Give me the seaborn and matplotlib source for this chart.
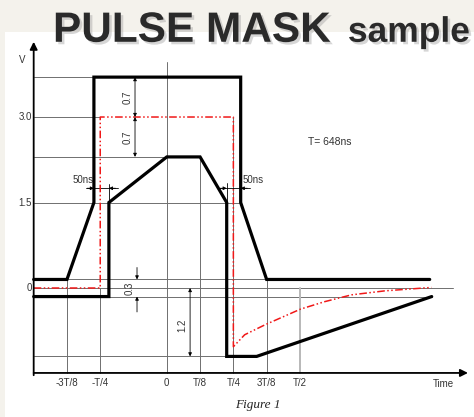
"""Pulse mask diagram (T = 648 ns) redrawn with seaborn/matplotlib."""

import matplotlib

matplotlib.use("Agg")
import matplotlib.pyplot as plt
import matplotlib.patheffects as pe
import pandas as pd
import seaborn as sns
from matplotlib.patches import Rectangle

# ---- data (time in units of T/8, level in volts) ----
T_NS = 648
TICK_POS = [-3, -2, 0, 1, 2, 3, 4]
TICK_LABELS = ["-3T/8", "-T/4", "0", "T/8", "T/4", "3T/8", "T/2"]
Y_TICKS = [3.0, 1.5, 0.0]
Y_LABELS = ["3.0", "1.5", "0"]

UPPER_X = [-4.0, -3.0, -2.19, -2.19, 2.22, 2.22, 3.0, 7.9]
UPPER_V = [0.15, 0.15, 1.5, 3.7, 3.7, 1.5, 0.15, 0.15]

LOWER_X = [-4.0, -1.74, -1.74, 0.0, 1.0, 1.8, 1.8, 2.7, 7.96]
LOWER_V = [-0.15, -0.15, 1.5, 2.3, 2.3, 1.5, -1.2, -1.2, -0.15]

NOMINAL_X = [-4.0, -2.0, -2.0, 2.0, 2.0, 2.34, 2.97, 4.02, 4.74, 5.55, 6.55, 7.95]
NOMINAL_V = [0.0, 0.0, 3.0, 3.0, -1.03, -0.82, -0.64, -0.37, -0.24, -0.12, -0.05, 0.01]

# thin construction lines: (level, from, to) and (time, from, to)
H_GRID = [
    (3.7, -4.0, -2.19),
    (3.0, -4.0, -2.0),
    (2.3, -4.0, 0.0),
    (1.5, -4.0, 2.22),
    (0.15, -4.0, 3.0),
    (0.0, -4.0, 8.6),
    (-0.15, -4.0, 7.96),
    (-1.2, -4.0, 1.8),
]
V_GRID = [
    (-3.0, 0.15, -1.49),
    (-2.0, 0.0, -1.49),
    (0.0, 3.96, -1.49),
    (1.0, 2.3, -1.49),
    (2.0, 3.0, -1.49),
    (3.0, 0.15, -1.49),
]
HALF_T = (4.0, 0.0, -1.49)

X_AXIS_V = -1.49
AXIS_U = -4.0

sns.set_theme(style="white")
plt.rcParams["font.family"] = ["Liberation Sans", "DejaVu Sans"]

fig = plt.figure(figsize=(4.74, 4.17), dpi=100, facecolor="#f4f2ec")
ax = fig.add_axes([0, 0, 1, 1])
ax.set_xlim(-5.012, 9.231)
ax.set_ylim(-2.263, 5.053)
ax.axis("off")
ax.patch.set_alpha(0)

# white sheet behind the drawing
ax.add_patch(Rectangle((5 / 474, 0), 1, (417 - 32) / 417, transform=ax.transAxes,
                       facecolor="white", edgecolor="none", zorder=0))

grid_kw = dict(color="#6f6f6f", linewidth=0.7, zorder=1)
for level, x0, x1 in H_GRID:
    ax.plot([x0, x1], [level, level], **grid_kw)
for u, v0, v1 in V_GRID:
    ax.plot([u, u], [v0, v1], **grid_kw)
ax.plot([HALF_T[0]] * 2, HALF_T[1:], color="#b8b8b8", linewidth=1.4, zorder=1)

# masks and nominal pulse
upper = pd.DataFrame({"t": UPPER_X, "v": UPPER_V})
lower = pd.DataFrame({"t": LOWER_X, "v": LOWER_V})
nominal = pd.DataFrame({"t": NOMINAL_X, "v": NOMINAL_V})
for frame in (upper, lower):
    sns.lineplot(data=frame, x="t", y="v", sort=False, estimator=None, color="black",
                 linewidth=2.3, solid_joinstyle="miter", ax=ax, zorder=4)
sns.lineplot(data=nominal, x="t", y="v", sort=False, estimator=None, color="#f01818",
             linewidth=1.1, linestyle=(0, (5, 1.6, 1, 1.6, 1, 1.6)), ax=ax, zorder=3)
ax.set_xlim(-5.012, 9.231)
ax.set_ylim(-2.263, 5.053)
ax.set_xlabel("")
ax.set_ylabel("")

# axes with arrows
axis_arrow = dict(arrowstyle="-|>", color="black", linewidth=1.3, mutation_scale=11,
                  shrinkA=0, shrinkB=0)
ax.annotate("", xy=(9.05, X_AXIS_V), xytext=(AXIS_U, X_AXIS_V), arrowprops=axis_arrow, zorder=5)
ax.annotate("", xy=(AXIS_U, 4.32), xytext=(AXIS_U, -1.53), arrowprops=axis_arrow, zorder=5)

label_kw = dict(fontsize=7, color="#333333")
for pos, lab in zip(TICK_POS, TICK_LABELS):
    ax.text(pos, -1.67, lab, ha="center", va="center", **label_kw)
for val, lab in zip(Y_TICKS, Y_LABELS):
    ax.text(-4.06, val, lab, ha="right", va="center", **label_kw)
ax.text(-4.35, 4.0, "V", ha="center", va="center", **label_kw)
ax.text(8.3, -1.69, "Time", ha="center", va="center", **label_kw)
ax.text(4.9, 2.56, f"T= {T_NS}ns", ha="center", va="center", fontsize=7.5, color="#333333")

# dimension marks
dim_kw = dict(arrowstyle="<|-|>", color="black", linewidth=0.6, mutation_scale=5,
              shrinkA=0, shrinkB=0)
head_kw = dict(arrowstyle="-|>", color="black", linewidth=0.6, mutation_scale=5,
               shrinkA=0, shrinkB=0)
ax.annotate("", xy=(-0.955, 3.7), xytext=(-0.955, 3.0), arrowprops=dim_kw)
ax.annotate("", xy=(-0.955, 3.0), xytext=(-0.955, 2.3), arrowprops=dim_kw)
ax.text(-1.19, 3.35, "0.7", rotation=90, ha="center", va="center", **label_kw)
ax.text(-1.19, 2.65, "0.7", rotation=90, ha="center", va="center", **label_kw)

ax.annotate("", xy=(-0.895, 0.15), xytext=(-0.895, 0.36), arrowprops=head_kw)
ax.annotate("", xy=(-0.895, -0.15), xytext=(-0.895, -0.42), arrowprops=head_kw)
ax.text(-1.11, 0.0, "0.3", rotation=90, ha="center", va="center", **label_kw)

ax.annotate("", xy=(0.70, 0.0), xytext=(0.70, -1.2), arrowprops=dim_kw)
ax.text(0.457, -0.65, "1.2", rotation=90, ha="center", va="center", **label_kw)

# 50 ns markers at the 1.5 V edges
for left, right, text_u in ((-2.19, -1.74, -2.52), (1.8, 2.22, 2.59)):
    ax.plot([left - 0.24, right + 0.27], [1.75, 1.75], color="black", linewidth=0.6)
    ax.annotate("", xy=(left, 1.75), xytext=(left - 0.2, 1.75), arrowprops=head_kw)
    ax.annotate("", xy=(right, 1.75), xytext=(right + 0.2, 1.75), arrowprops=head_kw)
    ax.text(text_u, 1.89, "50ns", ha="center", va="center", **label_kw)
ax.plot([-1.74, -1.74], [1.5, 1.82], color="black", linewidth=0.6)
ax.plot([1.8, 1.8], [1.5, 1.84], color="black", linewidth=0.6)

ax.text(2.74, -2.05, "Figure 1", ha="center", va="center", fontsize=9.5, style="italic",
        family=["Liberation Serif", "DejaVu Serif"], color="#222222")

# title with soft drop shadow
shadow = [pe.withSimplePatchShadow(offset=(1.8, -1.8), shadow_rgbFace="#9a9a9a", alpha=0.4)]
ax.text(-3.42, 4.32, "PULSE MASK", ha="left", va="baseline", fontsize=30.5,
        fontweight="bold", color="#2a2a2a", path_effects=shadow, zorder=6)
ax.text(5.44, 4.32, "sample", ha="left", va="baseline", fontsize=25.5,
        fontweight="bold", color="#2a2a2a", path_effects=shadow, zorder=6)

fig.savefig("out.png", dpi=100, facecolor=fig.get_facecolor())
plt.close(fig)
